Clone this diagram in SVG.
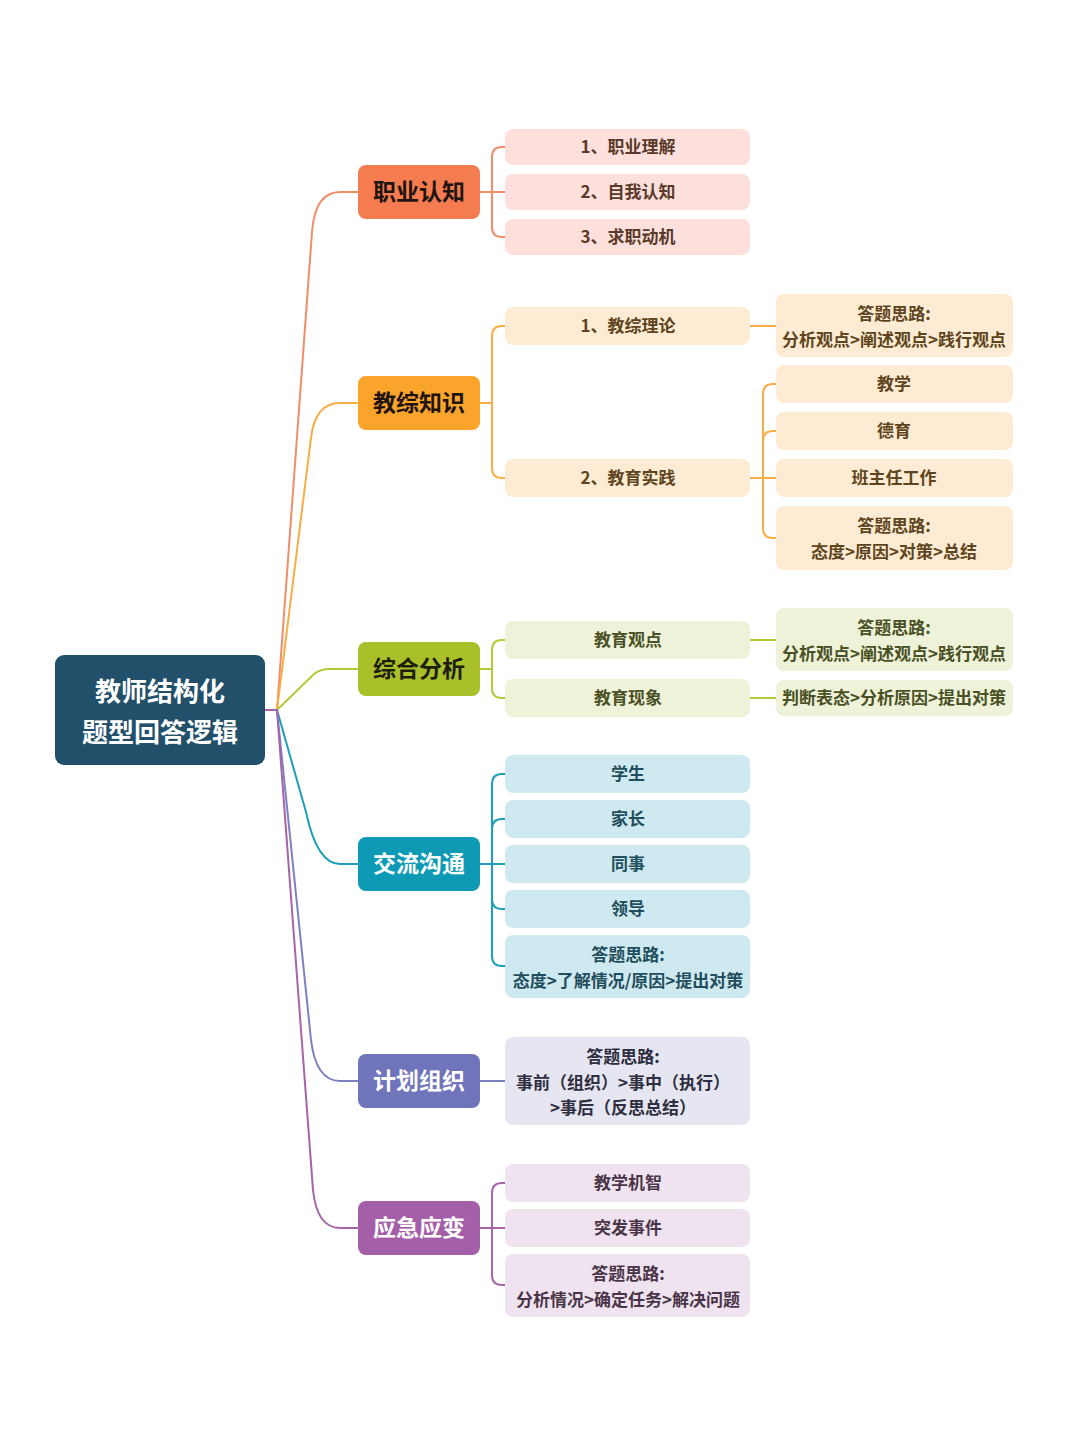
<svg xmlns="http://www.w3.org/2000/svg" width="1080" height="1440" viewBox="0 0 1080 1440">
<style>
text{font-family:"Noto Sans CJK SC","Noto Sans",sans-serif;font-weight:700;text-anchor:middle}
.root{font-size:26px;fill:#ffffff}
.l1{font-size:23px}
.l2{font-size:17px}
.c{fill:none;stroke-width:2;stroke-linecap:round;stroke-linejoin:round}
</style>
<rect width="1080" height="1440" fill="#ffffff"/>
<g id="connectors">
<!-- root to level 1 -->
<path class="c" stroke="#f08d6a" d="M265,710 L277,710 L312,232 Q315,192 340,192 L358,192"/>
<path class="c" stroke="#f9ae45" d="M265,710 L277,710 L311,438 Q315,403 340,403 L358,403"/>
<path class="c" stroke="#b3c93b" d="M265,710 L277,710 L314,674 Q320,669 330,669 L358,669"/>
<path class="c" stroke="#1d9fb8" d="M265,710 L277,710 L306,812 Q317,864 340,864 L358,864"/>
<path class="c" stroke="#7d80c2" d="M265,710 L277,710 L311,1040 Q316,1081 340,1081 L358,1081"/>
<path class="c" stroke="#a565a8" d="M265,710 L277,710 L313,1190 Q317,1228 340,1228 L358,1228"/>
<!-- 职业认知 -->
<path class="c" stroke="#f08d6a" d="M480,192 L505,192 M505,147 L502,147 Q492,147 492,157 L492,227 Q492,237 502,237 L505,237"/>
<!-- 教综知识 -->
<path class="c" stroke="#f9ae45" d="M480,403 L492,403 M505,326 L502,326 Q492,326 492,336 L492,468 Q492,478 502,478 L505,478"/>
<path class="c" stroke="#f9ae45" d="M750,326 L776,326"/>
<path class="c" stroke="#f9ae45" d="M750,478 L776,478 M776,384 L773,384 Q763,384 763,394 L763,528 Q763,538 773,538 L776,538 M763,441 Q763,431 773,431 L776,431"/>
<!-- 综合分析 -->
<path class="c" stroke="#b3c93b" d="M480,669 L492,669 M505,640 L502,640 Q492,640 492,650 L492,688 Q492,698 502,698 L505,698"/>
<path class="c" stroke="#b3c93b" d="M750,640 L776,640 M750,698 L776,698"/>
<!-- 交流沟通 -->
<path class="c" stroke="#1d9fb8" d="M480,864 L505,864 M505,774 L502,774 Q492,774 492,784 L492,956 Q492,966 502,966 L505,966 M492,829 Q492,819 502,819 L505,819 M492,899 Q492,909 502,909 L505,909"/>
<!-- 计划组织 -->
<path class="c" stroke="#7d80c2" d="M480,1081 L505,1081"/>
<!-- 应急应变 -->
<path class="c" stroke="#a565a8" d="M480,1228 L505,1228 M505,1183 L502,1183 Q492,1183 492,1193 L492,1275 Q492,1285 502,1285 L505,1285"/>
</g>
<g id="root">
<rect x="55" y="655" width="210" height="110" rx="9" fill="#22506a"/>
<text class="root" x="160" y="701">教师结构化</text>
<text class="root" x="160" y="742">题型回答逻辑</text>
</g>
<g id="n-zhiye">
<rect x="358" y="165" width="122" height="54" rx="8" fill="#f47c50"/>
<text class="l1" x="419" y="200" fill="#1e1410">职业认知</text>
</g>
<g id="n-zhiye-1"><rect x="505" y="129" width="245" height="36" rx="8" fill="#fde0db"/><text class="l2" x="628" y="153" fill="#5a3a2a">1、职业理解</text></g>
<g id="n-zhiye-2"><rect x="505" y="174" width="245" height="36" rx="8" fill="#fde0db"/><text class="l2" x="628" y="198" fill="#5a3a2a">2、自我认知</text></g>
<g id="n-zhiye-3"><rect x="505" y="219" width="245" height="36" rx="8" fill="#fde0db"/><text class="l2" x="628" y="243" fill="#5a3a2a">3、求职动机</text></g>
<g id="n-jiaozong">
<rect x="358" y="376" width="122" height="54" rx="8" fill="#fba42c"/>
<text class="l1" x="419" y="411" fill="#1e1410">教综知识</text>
</g>
<g id="n-jiaozong-1"><rect x="505" y="307" width="245" height="38" rx="8" fill="#fdecd3"/><text class="l2" x="628" y="332" fill="#5e4520">1、教综理论</text></g>
<g id="n-jiaozong-2"><rect x="505" y="459" width="245" height="38" rx="8" fill="#fdecd3"/><text class="l2" x="628" y="484" fill="#5e4520">2、教育实践</text></g>
<g id="n-jiaozong-1a"><rect x="776" y="294" width="237" height="63" rx="8" fill="#fdecd3"/><text class="l2" x="894" y="320" fill="#5e4520">答题思路:</text><text class="l2" x="894" y="346" fill="#5e4520">分析观点&gt;阐述观点&gt;践行观点</text></g>
<g id="n-jiaozong-2a"><rect x="776" y="365" width="237" height="38" rx="8" fill="#fdecd3"/><text class="l2" x="894" y="390" fill="#5e4520">教学</text></g>
<g id="n-jiaozong-2b"><rect x="776" y="412" width="237" height="38" rx="8" fill="#fdecd3"/><text class="l2" x="894" y="437" fill="#5e4520">德育</text></g>
<g id="n-jiaozong-2c"><rect x="776" y="459" width="237" height="38" rx="8" fill="#fdecd3"/><text class="l2" x="894" y="484" fill="#5e4520">班主任工作</text></g>
<g id="n-jiaozong-2d"><rect x="776" y="506" width="237" height="64" rx="8" fill="#fdecd3"/><text class="l2" x="894" y="532" fill="#5e4520">答题思路:</text><text class="l2" x="894" y="558" fill="#5e4520">态度&gt;原因&gt;对策&gt;总结</text></g>
<g id="n-zonghe">
<rect x="358" y="642" width="122" height="54" rx="8" fill="#a9c02a"/>
<text class="l1" x="419" y="677" fill="#1e1e10">综合分析</text>
</g>
<g id="n-zonghe-1"><rect x="505" y="621" width="245" height="38" rx="8" fill="#eef2d8"/><text class="l2" x="628" y="646" fill="#4a5025">教育观点</text></g>
<g id="n-zonghe-2"><rect x="505" y="679" width="245" height="38" rx="8" fill="#eef2d8"/><text class="l2" x="628" y="704" fill="#4a5025">教育现象</text></g>
<g id="n-zonghe-1a"><rect x="776" y="608" width="237" height="63" rx="8" fill="#eef2d8"/><text class="l2" x="894" y="634" fill="#4a5025">答题思路:</text><text class="l2" x="894" y="660" fill="#4a5025">分析观点&gt;阐述观点&gt;践行观点</text></g>
<g id="n-zonghe-2a"><rect x="776" y="680" width="237" height="36" rx="8" fill="#eef2d8"/><text class="l2" x="894" y="704" fill="#4a5025">判断表态&gt;分析原因&gt;提出对策</text></g>
<g id="n-jiaoliu">
<rect x="358" y="837" width="122" height="54" rx="8" fill="#0e9ab5"/>
<text class="l1" x="419" y="872" fill="#ffffff">交流沟通</text>
</g>
<g id="n-jiaoliu-1"><rect x="505" y="755" width="245" height="38" rx="8" fill="#cfe9f0"/><text class="l2" x="628" y="780" fill="#1f4e5c">学生</text></g>
<g id="n-jiaoliu-2"><rect x="505" y="800" width="245" height="38" rx="8" fill="#cfe9f0"/><text class="l2" x="628" y="825" fill="#1f4e5c">家长</text></g>
<g id="n-jiaoliu-3"><rect x="505" y="845" width="245" height="38" rx="8" fill="#cfe9f0"/><text class="l2" x="628" y="870" fill="#1f4e5c">同事</text></g>
<g id="n-jiaoliu-4"><rect x="505" y="890" width="245" height="38" rx="8" fill="#cfe9f0"/><text class="l2" x="628" y="915" fill="#1f4e5c">领导</text></g>
<g id="n-jiaoliu-5"><rect x="505" y="935" width="245" height="63" rx="8" fill="#cfe9f0"/><text class="l2" x="628" y="961" fill="#1f4e5c">答题思路:</text><text class="l2" x="628" y="987" fill="#1f4e5c">态度&gt;了解情况/原因&gt;提出对策</text></g>
<g id="n-jihua">
<rect x="358" y="1054" width="122" height="54" rx="8" fill="#7074bb"/>
<text class="l1" x="419" y="1089" fill="#ffffff">计划组织</text>
</g>
<g id="n-jihua-1"><rect x="505" y="1037" width="245" height="88" rx="8" fill="#e6e6f2"/><text class="l2" x="623" y="1063" fill="#2e2e40">答题思路:</text><text class="l2" x="623" y="1089" fill="#2e2e40">事前（组织）&gt;事中（执行）</text><text class="l2" x="623" y="1114" fill="#2e2e40">&gt;事后（反思总结）</text></g>
<g id="n-yingji">
<rect x="358" y="1201" width="122" height="54" rx="8" fill="#a55fa8"/>
<text class="l1" x="419" y="1236" fill="#ffffff">应急应变</text>
</g>
<g id="n-yingji-1"><rect x="505" y="1164" width="245" height="38" rx="8" fill="#f0e3f0"/><text class="l2" x="628" y="1189" fill="#4a3548">教学机智</text></g>
<g id="n-yingji-2"><rect x="505" y="1209" width="245" height="38" rx="8" fill="#f0e3f0"/><text class="l2" x="628" y="1234" fill="#4a3548">突发事件</text></g>
<g id="n-yingji-3"><rect x="505" y="1254" width="245" height="63" rx="8" fill="#f0e3f0"/><text class="l2" x="628" y="1280" fill="#4a3548">答题思路:</text><text class="l2" x="628" y="1306" fill="#4a3548">分析情况&gt;确定任务&gt;解决问题</text></g>
</svg>
